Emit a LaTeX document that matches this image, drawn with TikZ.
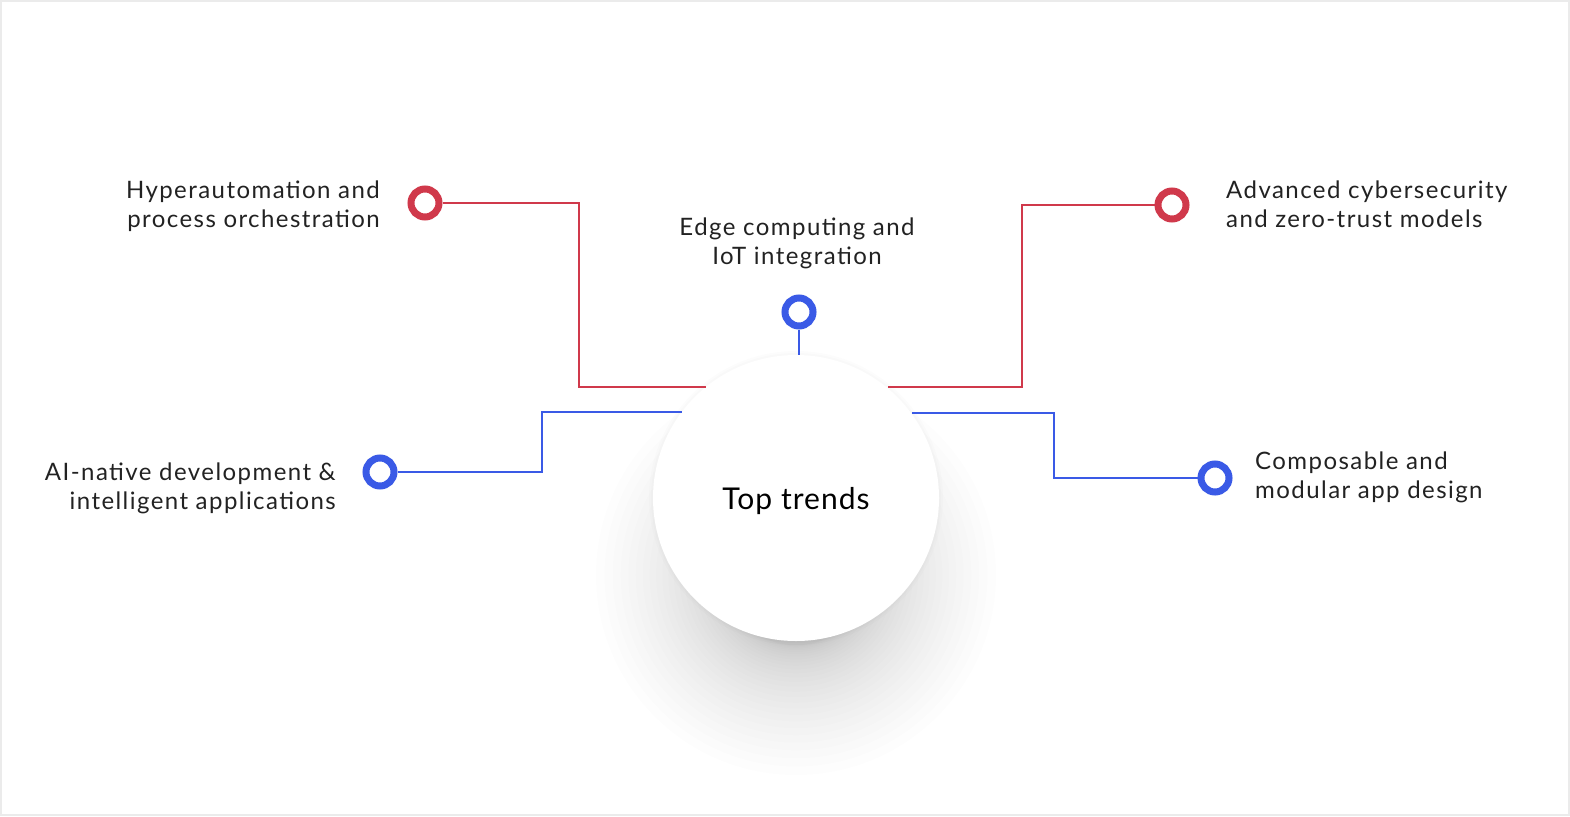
\documentclass[tikz,border=0pt]{standalone}
\usepackage{fontspec}
\setmainfont{Lato}
\definecolor{cred}{HTML}{D0394B}
\definecolor{cblue}{HTML}{3A5AE6}
\definecolor{ctext}{HTML}{222222}
\tikzset{
  ring/.style={circle, draw, line width=7pt, fill=white, minimum size=28pt, inner sep=0pt},
  redring/.style={ring, draw=cred},
  bluering/.style={ring, draw=cblue},
  lbl/.style={text=ctext, font=\fontsize{24}{29}\selectfont\addfontfeatures{LetterSpace=6}, inner sep=0pt},
  hublbl/.style={text=black, inner sep=0pt, font=\fontsize{30}{36}\selectfont\addfontfeatures{LetterSpace=3.5}},
  link/.style={line width=1.1pt},
  hubnode/.style={circle, fill=white, minimum size=286pt, inner sep=0pt},
  shadowlayer/.style={fill=black, opacity=0.0082},
  halolayer/.style={fill=black, opacity=0.012}
}
\begin{document}
\begin{tikzpicture}[x=1pt,y=-1pt]
\useasboundingbox (0,0) rectangle (1570,816);
\fill[white] (0,0) rectangle (1570,816);
\draw[black!8, line width=2pt] (1,1) rectangle (1569,815);

% soft shadow under the hub
\foreach \k in {1,...,30} {
  \fill[shadowlayer] (796,575) circle ({70+130*(\k/30)*(\k/30)});
}
\fill[halolayer] (796,498) circle (147);
\fill[halolayer] (796,498) circle (145);

\node[hubnode, label={[hublbl, yshift=-3pt]center:Top trends}] (hub) at (796,498) {};

\node[redring] (r1) at (425,203) {};
\node[redring] (r2) at (1172,205) {};
\node[bluering] (e) at (799,312) {};
\node[bluering] (l) at (380,472) {};
\node[bluering] (rr) at (1215,478) {};

\coordinate (bendRL) at (579,387);
\coordinate (bendRR) at (1022,387);
\coordinate (bendBL) at (542,412);
\coordinate (bendBR) at (1054,413);

\draw[link,cred] (r1.east) -| (bendRL) -- (hub.129.1 |- bendRL);
\draw[link,cred] (r2.west) -| (bendRR) -- (hub.50.9 |- bendRR);
\draw[link,cblue] (l.east) -| (bendBL) -- (hub.143 |- bendBL);
\draw[link,cblue] (rr.west) -| (bendBR) -- (hub.36.5 |- bendBR);
\draw[link,cblue] (e.south) -- (e.south |- hub.north);

\node[lbl, anchor=east, align=right] (t1) at (380,206) {Hyperautomation and\\process orchestration};
\node[lbl, align=center] (t2) at (797,243) {Edge computing and\\IoT integration};
\node[lbl, anchor=west, align=left] (t3) at (1226,204) {Advanced cybersecurity\\and zero-trust models};
\node[lbl, anchor=east, align=right] (t4) at (336,488) {AI-native development \&\\intelligent applications};
\node[lbl, anchor=west, align=left] (t5) at (1255,477) {Composable and\\modular app design};
\end{tikzpicture}
\end{document}
